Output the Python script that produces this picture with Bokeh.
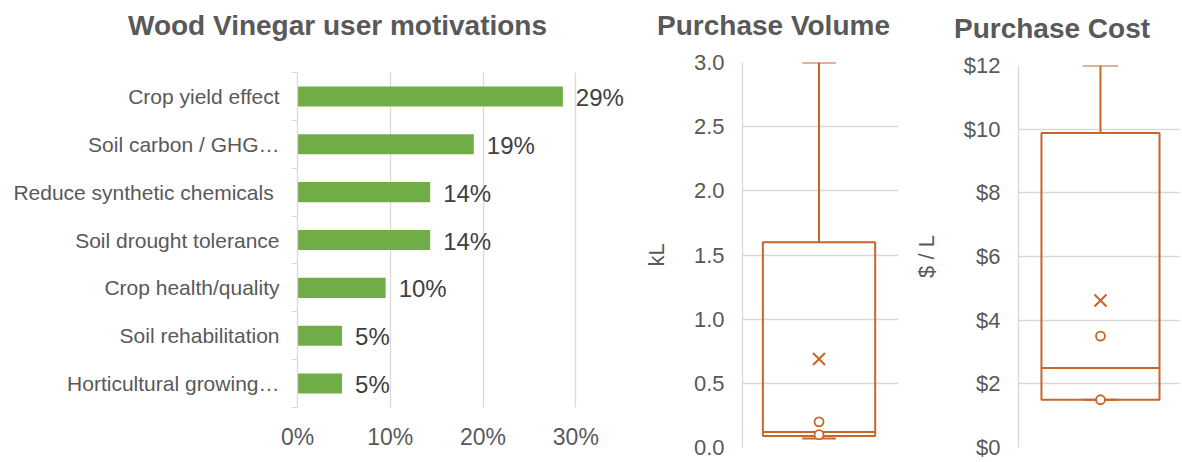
from bokeh.plotting import figure
from bokeh.layouts import row, column
from bokeh.models import FixedTicker, PrintfTickFormatter, NumeralTickFormatter, Range1d
from bokeh.core.properties import value
from bokeh.embed import file_html
from bokeh.resources import INLINE

# ---------------- data ----------------
titles = ["Wood Vinegar user motivations", "Purchase Volume", "Purchase Cost"]

categories = ["Crop yield effect", "Soil carbon / GHG\u2026", "Reduce synthetic chemicals\u00a0",
              "Soil drought tolerance", "Crop health/quality", "Soil rehabilitation",
              "Horticultural growing\u2026"]
shares = [28.6, 19.0, 14.3, 14.3, 9.5, 4.8, 4.8]          # percent of users
share_ticks = [0, 10, 20, 30]

# box stats: [min whisker, Q1, median, Q3, max whisker]
volume_box = [0.07, 0.09, 0.12, 1.6, 3.0]
volume_mean = 0.69
volume_points = [0.1, 0.2]
volume_ticks = [0.0, 0.5, 1.0, 1.5, 2.0, 2.5, 3.0]

cost_box = [1.5, 1.5, 2.5, 9.88, 12.0]
cost_mean = 4.62
cost_points = [1.5, 3.5]
cost_ticks = [0, 2, 4, 6, 8, 10, 12]

# ---------------- style ----------------
FONT = "Liberation Sans"
TXT = "#595959"
DARK = "#404040"
GRID = "#d9d9d9"
GREEN = "#70AD47"
ORANGE = "#C96528"
TOP_H = 45
H = 417

# ---------------- title strip (pixel-like coordinates) ----------------
tstrip = figure(width=1180, height=TOP_H, output_backend="svg", toolbar_location=None,
                x_axis_type=None, y_axis_type=None, frame_align=False,
                x_range=Range1d(0, 1180), y_range=Range1d(TOP_H, 0),
                min_border_left=0, min_border_right=0, min_border_top=0, min_border_bottom=0)
tstrip.outline_line_color = None
tstrip.grid.visible = False
tstrip.text(x=[337, 773, 1051.5], y=[24.5, 24.5, 27.5], text=titles,
            text_font=value(FONT), text_font_size="28px", text_font_style="bold",
            text_color=TXT, text_align="center", text_baseline="alphabetic")

# ---------------- panel 1: bar chart ----------------
n = len(categories)
ypos = [n - 0.5 - i for i in range(n)]

p1 = figure(width=640, height=H, output_backend="svg", toolbar_location=None,
            x_range=Range1d(0, 36), y_range=Range1d(0, n), frame_align=False,
            min_border_left=297, min_border_right=9, min_border_top=27, min_border_bottom=55)
p1.outline_line_color = None
p1.hbar(y=ypos, left=0, right=shares, height=0.42, fill_color=GREEN, line_color=None)
p1.text(x=shares, y=ypos, text=[f"{round(v)}%" for v in shares], x_offset=13, y_offset=1,
        text_font=value(FONT), text_font_size="24px", text_color=DARK,
        text_align="left", text_baseline="middle")

p1.yaxis.ticker = FixedTicker(ticks=ypos, minor_ticks=list(range(n + 1)))
p1.yaxis.major_label_overrides = {y: c for y, c in zip(ypos, categories)}
p1.yaxis.major_tick_out = 0
p1.yaxis.major_tick_in = 0
p1.yaxis.minor_tick_out = 6
p1.yaxis.minor_tick_in = 0
p1.yaxis.minor_tick_line_color = GRID
p1.yaxis.axis_line_color = GRID
p1.yaxis.axis_line_width = 1.3
p1.yaxis.major_label_standoff = 12
p1.yaxis.major_label_text_font = FONT
p1.yaxis.major_label_text_font_size = "21px"
p1.yaxis.major_label_text_color = TXT

p1.xaxis.ticker = FixedTicker(ticks=share_ticks)
p1.xaxis.formatter = PrintfTickFormatter(format="%d%%")
p1.xaxis.axis_line_color = None
p1.xaxis.major_tick_out = 0
p1.xaxis.major_tick_in = 0
p1.xaxis.minor_tick_line_color = None
p1.xaxis.major_label_standoff = 16
p1.xaxis.major_label_text_font = FONT
p1.xaxis.major_label_text_font_size = "23px"
p1.xaxis.major_label_text_color = TXT
p1.xgrid.ticker = FixedTicker(ticks=share_ticks[1:])
p1.xgrid.grid_line_color = GRID
p1.xgrid.grid_line_width = 1.3
p1.ygrid.grid_line_color = None


# ---------------- box plot helper ----------------
def box_panel(width, left, right, top, xr, stats, mean, points, ticks, yend, fmt, ylabel):
    p = figure(width=width, height=H, output_backend="svg", toolbar_location=None,
               x_axis_type=None, x_range=Range1d(*xr), y_range=Range1d(0, yend),
               frame_align=False,
               min_border_left=left, min_border_right=right, min_border_top=top,
               min_border_bottom=15)
    p.outline_line_color = None
    lo, q1, med, q3, hi = stats
    cx, hw, cw = 1.0, 0.72, 0.215
    p.segment(x0=[cx, cx], y0=[q3, q1], x1=[cx, cx], y1=[hi, lo], line_color=ORANGE, line_width=2)
    p.segment(x0=[cx - cw, cx - cw], y0=[hi, lo], x1=[cx + cw, cx + cw], y1=[hi, lo],
              line_color=ORANGE, line_width=2)
    p.quad(left=[cx - hw], right=[cx + hw], bottom=[q1], top=[q3], fill_color=None,
           line_color=ORANGE, line_width=2)
    p.segment(x0=[cx - hw], y0=[med], x1=[cx + hw], y1=[med], line_color=ORANGE, line_width=2)
    p.scatter(x=[cx] * len(points), y=points, marker="circle", size=9, fill_color="white",
              line_color=ORANGE, line_width=1.8)
    p.scatter(x=[cx], y=[mean], marker="x", size=17, line_color=ORANGE, line_width=2)

    p.yaxis.ticker = FixedTicker(ticks=ticks)
    p.yaxis.formatter = fmt
    p.yaxis.axis_line_color = GRID
    p.yaxis.axis_line_width = 1.3
    p.yaxis.major_tick_out = 0
    p.yaxis.major_tick_in = 0
    p.yaxis.minor_tick_line_color = None
    p.yaxis.major_label_standoff = 18
    p.yaxis.major_label_text_font = FONT
    p.yaxis.major_label_text_font_size = "22px"
    p.yaxis.major_label_text_color = TXT
    p.yaxis.axis_label = ylabel
    p.yaxis.axis_label_standoff = 22
    p.yaxis.axis_label_text_font = FONT
    p.yaxis.axis_label_text_font_size = "22px"
    p.yaxis.axis_label_text_font_style = "normal"
    p.yaxis.axis_label_text_color = TXT
    p.ygrid.ticker = FixedTicker(ticks=ticks)
    p.ygrid.grid_line_color = GRID
    p.ygrid.grid_line_width = 1.3
    return p


p2 = box_panel(265, 102, 7, 17, (0.019, 2.019), volume_box, volume_mean, volume_points,
               volume_ticks, 3.0, NumeralTickFormatter(format="0.0"), "kL")
p3 = box_panel(275, 113, 0, 20, (0.0, 1.976), cost_box, cost_mean, cost_points,
               cost_ticks, 12.0, PrintfTickFormatter(format="$%d"), "$ / L")

layout = column(tstrip, row(p1, p2, p3))
open("out.html", "w").write(file_html(layout, INLINE))
